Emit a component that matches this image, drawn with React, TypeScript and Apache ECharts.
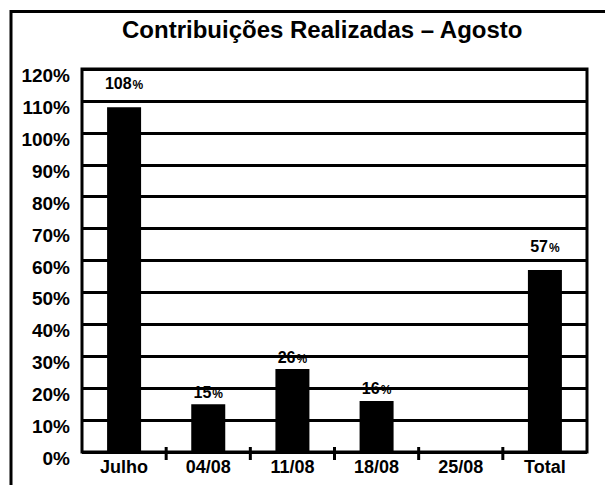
import React, { useEffect, useRef } from "react";
import * as echarts from "echarts";

const titleText = "Contribuições Realizadas – Agosto";
const categories = ["Julho", "04/08", "11/08", "18/08", "25/08", "Total"];
const values: (number | null)[] = [108, 15, 26, 16, null, 57];
const labelGaps = [16, 4, 4, 4, 0, 16];
const yTicks = [0, 10, 20, 30, 40, 50, 60, 70, 80, 90, 100, 110, 120];
const tickBoundaries = [1, 2, 3, 4, 5];

const FONT = "'Liberation Sans', Arial, Helvetica, sans-serif";

export default function App() {
  const ref = useRef<HTMLDivElement>(null);
  useEffect(() => {
    if (!ref.current) return;
    const chart = echarts.init(ref.current, undefined, { renderer: "svg" });
    chart.setOption({
      animation: false,
      backgroundColor: "#fff",
      title: {
        text: titleText,
        left: 117,
        top: 12,
        textStyle: { fontFamily: FONT, fontWeight: "bold", fontSize: 24, color: "#000" },
      },
      graphic: [
        {
          type: "rect",
          shape: { x: 11, y: 11.5, width: 620, height: 520 },
          style: { fill: "none", stroke: "#000", lineWidth: 3 },
          z: 10,
        },
      ],
      grid: {
        left: 82,
        right: 18,
        top: 69,
        bottom: 33,
        show: true,
        borderColor: "#000",
        borderWidth: 3,
      },
      xAxis: {
        type: "category",
        data: categories,
        axisLine: { show: false },
        axisTick: { show: false },
        axisLabel: {
          margin: 6,
          color: "#000",
          fontFamily: FONT,
          fontWeight: "bold",
          fontSize: 18,
        },
      },
      yAxis: {
        type: "value",
        min: 0,
        max: 120,
        interval: 10,
        axisLine: { show: false },
        axisTick: { show: false },
        splitLine: { lineStyle: { color: "#000", width: 3 } },
        axisLabel: {
          margin: 12,
          color: "#000",
          fontFamily: FONT,
          fontWeight: "bold",
          fontSize: 19,
          verticalAlign: "top",
          padding: [-3, 0, 0, 0],
          formatter: (v: number) => (yTicks.includes(v) ? `${v}%` : ""),
        },
      },
      series: [
        {
          type: "bar",
          barWidth: 34,
          data: values.map((v, i) => ({
            value: v,
            label: { distance: labelGaps[i] },
          })),
          itemStyle: { color: "#000" },
          label: {
            show: true,
            position: "top",
            color: "#000",
            formatter: (p: any) => `{v|${p.value}}{p|%}`,
            rich: {
              v: { fontFamily: FONT, fontWeight: "bold", fontSize: 16, color: "#000" },
              p: { fontFamily: FONT, fontWeight: "bold", fontSize: 12, color: "#000", padding: [3, 0, 0, 1] },
            },
          },
          z: 3,
        },
        {
          type: "custom",
          clip: false,
          silent: true,
          data: tickBoundaries.map((i) => [i, 0]),
          encode: { x: 0, y: 1 },
          renderItem: (_params: any, api: any) => {
            const i = api.value(0);
            const pt = api.coord([i, 0]);
            const w = api.size([1, 0])[0];
            const x = pt[0] - w / 2;
            return {
              type: "line",
              shape: { x1: x, y1: pt[1] - 5, x2: x, y2: pt[1] + 8 },
              style: { stroke: "#000", lineWidth: 3 },
            };
          },
          z: 5,
        },
      ],
    });
    return () => chart.dispose();
  }, []);
  return (
    <div
      ref={ref}
      style={{ position: "fixed", left: 0, top: 0, width: 605, height: 485, background: "#fff" }}
    />
  );
}
